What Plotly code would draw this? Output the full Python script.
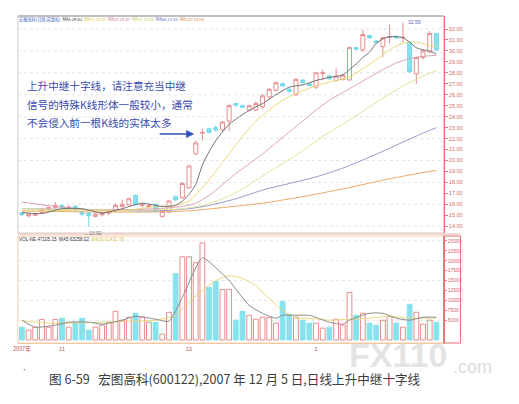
import plotly.graph_objects as go

# ---------------- data ----------------
idx = list(range(63))
open_ = [15.2, 14.95, 15.0, 15.25, 15.5, 15.7, 15.9, 15.6, 15.8, 15.3,
         15.2, 14.9, 15.05, 15.2, 15.4, 15.8, 15.95, 16.8, 15.9, 15.8,
         16.0, 14.9, 15.3, 16.7, 16.6, 17.5, 20.6, 22.5, 22.9, 23.0,
         22.8, 23.6, 25.2, 25.0, 24.6, 24.6, 24.9, 25.8, 26.4, 27.0,
         26.5, 26.0, 27.35, 27.0, 26.7, 27.95, 27.7, 27.3, 27.4, 27.35,
         30.3, 30.1, 31.4, 30.9, 30.4, 31.25, 31.35, 31.2, 30.8, 27.9,
         29.4, 29.9, 31.6]
high = [15.3, 15.2, 15.25, 15.7, 15.8, 16.2, 16.0, 15.9, 15.9, 15.4,
        15.3, 15.2, 15.3, 15.5, 16.1, 16.4, 16.6, 16.9, 16.1, 16.0,
        16.1, 15.5, 16.4, 16.8, 18.0, 19.6, 21.8, 22.9, 23.0, 23.2,
        23.6, 25.2, 25.3, 25.1, 25.1, 25.4, 26.1, 26.6, 27.2, 27.1,
        26.6, 27.5, 27.4, 27.1, 28.1, 28.3, 27.8, 28.4, 27.9, 30.4,
        30.4, 31.9, 31.5, 31.0, 31.3, 32.4, 31.4, 32.59, 30.9, 29.5,
        30.1, 31.8, 31.65]
low = [14.9, 14.8, 14.9, 15.2, 15.4, 15.6, 15.6, 15.5, 15.3, 14.9,
       13.92, 14.8, 14.9, 15.0, 15.3, 15.7, 15.9, 15.9, 15.7, 15.6,
       15.3, 14.8, 15.2, 16.3, 16.5, 17.4, 20.5, 21.8, 22.5, 22.6,
       22.6, 22.7, 24.9, 24.8, 24.5, 24.5, 24.7, 25.6, 26.3, 26.7,
       26.2, 25.9, 27.0, 26.8, 26.5, 27.3, 27.4, 27.2, 27.3, 27.3,
       30.1, 29.9, 31.1, 30.7, 29.4, 30.7, 31.1, 30.8, 28.0, 27.0,
       29.2, 29.8, 30.0]
close = [15.05, 15.1, 15.15, 15.55, 15.7, 15.9, 15.7, 15.75, 15.45, 15.1,
         14.95, 15.1, 15.2, 15.35, 15.9, 16.0, 16.5, 16.0, 16.0, 15.9,
         15.4, 15.35, 16.3, 16.4, 17.9, 19.5, 21.6, 22.55, 22.55, 22.8,
         23.5, 25.0, 25.05, 24.85, 25.0, 25.2, 25.9, 26.5, 27.1, 26.8,
         26.3, 27.4, 27.1, 26.85, 28.0, 28.0, 27.45, 27.7, 27.8, 30.3,
         30.15, 31.5, 31.2, 30.75, 31.2, 31.3, 31.2, 31.25, 28.1, 29.4,
         30.0, 31.6, 30.1]
volume = [3250, 2500, 3250, 5200, 3250, 5200, 5500, 3250, 4500, 5500,
          2500, 3250, 3750, 4500, 7250, 5000, 5750, 6750, 5750, 4500,
          4500, 1500, 7000, 16750, 21000, 21000, 19500, 24500, 13250, 14750,
          12750, 12750, 5000, 7250, 6250, 5250, 5750, 5750, 4250, 9750,
          6500, 5750, 5000, 4250, 4250, 3000, 3250, 5250, 3750, 12000,
          6250, 6750, 4250, 3750, 5000, 6000, 4250, 3250, 9000, 7000,
          4000, 5000, 4500]

ma5_x = [0, 3, 6, 9, 12, 15, 18, 21, 23, 24, 25, 26, 27, 28, 29, 30, 31, 33, 35, 36,
         38, 40, 42, 44, 46, 48, 49, 50, 51, 52, 53, 54, 55, 56, 57, 58, 59, 60, 61, 62]
ma5_y = [15.25, 15.15, 15.6, 15.6, 15.2, 15.6, 16.1, 15.8, 15.9, 16.3, 16.9, 17.8, 19.6,
         20.8, 21.8, 22.6, 23.3, 24.2, 24.9, 25.2, 26.0, 26.7, 26.9, 27.3, 27.6, 27.8,
         28.3, 28.8, 29.4, 29.9, 30.7, 31.1, 31.3, 31.3, 31.2, 30.8, 30.3, 30.1, 30.0, 29.7]
ma10_x = [0, 5, 10, 15, 20, 23, 25, 27, 29, 31, 33, 35, 37, 39, 41, 43, 45, 47, 49, 51,
          53, 55, 57, 59, 61, 62]
ma10_y = [15.4, 15.4, 15.5, 15.4, 15.8, 15.9, 16.3, 17.5, 19.0, 20.6, 22.2, 23.6, 24.6,
          25.5, 26.1, 26.6, 27.0, 27.3, 27.6, 28.4, 29.2, 30.1, 30.7, 30.8, 30.5, 30.4]
ma20_x = [0, 5, 10, 15, 20, 24, 26, 28, 30, 32, 34, 36, 38, 40, 42, 44, 46, 48, 50, 52,
          54, 56, 58, 60, 62]
ma20_y = [16.2, 15.8, 15.5, 15.5, 15.6, 15.8, 16.1, 16.8, 17.8, 18.8, 19.7, 20.6, 21.6,
          22.6, 23.6, 24.6, 25.5, 26.2, 26.9, 27.6, 28.3, 28.9, 29.3, 29.5, 29.6]
ma30_x = [0, 10, 20, 24, 27, 30, 33, 36, 39, 42, 45, 48, 51, 54, 57, 60, 62]
ma30_y = [15.6, 15.5, 15.5, 15.6, 15.9, 16.5, 17.4, 18.6, 19.7, 20.9, 22.2, 23.3, 24.5,
          25.7, 26.8, 27.7, 28.2]
ma60_x = [0, 10, 20, 25, 28, 32, 36, 40, 44, 48, 52, 56, 60, 62]
ma60_y = [15.6, 15.5, 15.4, 15.6, 15.9, 16.5, 17.3, 17.9, 18.5, 19.3, 20.3, 21.4, 22.5, 23.0]
ma120_x = [0, 10, 20, 25, 30, 36, 42, 48, 54, 60, 62]
ma120_y = [15.4, 15.3, 15.3, 15.4, 15.7, 16.1, 16.7, 17.4, 18.2, 18.9, 19.1]

vma5_x = [0, 2, 5, 7, 10, 12, 15, 17, 20, 22, 24, 27, 29, 31, 34, 36, 38, 39, 41, 43,
          46, 48, 49, 52, 54, 56, 58, 60, 62]
vma5_y = [5000, 3250, 3750, 4500, 4500, 4000, 5000, 6000, 5250, 4750, 10750, 20750,
          18250, 15000, 8750, 6750, 5500, 6250, 6250, 6250, 4500, 4000, 5000, 6750,
          6750, 5500, 5000, 5750, 5750]
vma10_x = [0, 5, 10, 15, 20, 23, 25, 27, 29, 31, 33, 35, 36, 37, 39, 41, 43, 46, 49, 52,
           55, 58, 60, 62]
vma10_y = [4800, 4200, 4400, 4700, 5000, 6200, 9500, 12500, 15000, 16250, 15500, 13750,
           12000, 10500, 7500, 5500, 5500, 5000, 5250, 5500, 6000, 5500, 5500, 5600]

price_ticks = [14, 15, 16, 17, 18, 19, 20, 21, 22, 23, 24, 25, 26, 27, 28, 29, 30, 31, 32]
price_grid = [14, 16, 18, 20, 22, 24, 26, 28, 30, 32]
vol_ticks = [5000, 7500, 10000, 12500, 15000, 17500, 20000, 22500, 25000]
vol_grid = [5000, 10000, 15000, 20000, 25000]
date_pos = [0, 6, 25, 44]
date_text = ["2007年", "11", "12", "1"]

# ---------------- figure ----------------
W, H = 519, 404
def px(x):
    return x / W
def py(y):
    return 1 - y / H

UP = "#e88c8c"
DN_FILL = "#86e3ee"
DN_LINE = "#74d9e8"

fig = go.Figure()

ma_specs = [
    (ma120_x, ma120_y, "#eaa867"),
    (ma60_x, ma60_y, "#9a98c8"),
    (ma30_x, ma30_y, "#dfe39a"),
    (ma20_x, ma20_y, "#dca3b5"),
    (ma10_x, ma10_y, "#ecd77a"),
    (ma5_x, ma5_y, "#707070"),
]
for xs, ys, col in ma_specs:
    fig.add_trace(go.Scatter(x=xs, y=ys, mode="lines", line=dict(color=col, width=1, shape="spline", smoothing=0.6),
                             xaxis="x", yaxis="y", hoverinfo="skip", showlegend=False))

fig.add_trace(go.Candlestick(
    x=idx, open=open_, high=high, low=low, close=close,
    increasing=dict(line=dict(color=UP, width=1), fillcolor="white"),
    decreasing=dict(line=dict(color=DN_LINE, width=1), fillcolor=DN_FILL),
    whiskerwidth=0, xaxis="x", yaxis="y", showlegend=False))

bar_fill = ["white" if c >= o else DN_FILL for o, c in zip(open_, close)]
bar_line = [UP if c >= o else DN_FILL for o, c in zip(open_, close)]
fig.add_trace(go.Bar(x=idx, y=volume, width=0.72,
                     marker=dict(color=bar_fill, line=dict(color=bar_line, width=1)),
                     xaxis="x2", yaxis="y2", showlegend=False))
fig.add_trace(go.Scatter(x=vma10_x, y=vma10_y, mode="lines",
                         line=dict(color="#ecd77a", width=1, shape="spline", smoothing=0.6),
                         xaxis="x2", yaxis="y2", showlegend=False))
fig.add_trace(go.Scatter(x=vma5_x, y=vma5_y, mode="lines",
                         line=dict(color="#8a8a8a", width=1, shape="spline", smoothing=0.6),
                         xaxis="x2", yaxis="y2", showlegend=False))

shapes = []
for g in price_grid:
    shapes.append(dict(type="line", xref="x domain", yref="y", x0=0, x1=1, y0=g, y1=g,
                       line=dict(color="#e4e4e4", width=1, dash="dot"), layer="below"))
for g in vol_grid:
    shapes.append(dict(type="line", xref="x2 domain", yref="y2", x0=0, x1=1, y0=g, y1=g,
                       line=dict(color="#e4e4e4", width=1, dash="dot"), layer="below"))
# panel frames
shapes.append(dict(type="rect", xref="paper", yref="paper", x0=px(13), x1=px(443), y0=py(233), y1=py(16),
                   line=dict(color="#cfcfcf", width=1), layer="below"))
shapes.append(dict(type="line", xref="paper", yref="paper", x0=px(13), x1=px(443), y0=py(16), y1=py(16),
                   line=dict(color="#9a9a9a", width=1)))
shapes.append(dict(type="line", xref="paper", yref="paper", x0=px(13), x1=px(460), y0=py(234), y1=py(234),
                   line=dict(color="#f0b8a8", width=1)))
shapes.append(dict(type="rect", xref="paper", yref="paper", x0=px(13), x1=px(443), y0=py(343), y1=py(236),
                   line=dict(color="#f2cfb0", width=1), layer="below"))
shapes.append(dict(type="rect", xref="paper", yref="paper", x0=px(443), x1=px(460), y0=py(343), y1=py(236),
                   line=dict(color="#e07070", width=1)))

annotations = []
# header line of the price panel
hdr = ('<span style="color:#3d5fc0">宏图高科(日线,前复权)</span>  '
       '<span style="color:#333">MA5 29.62</span>  '
       '<span style="color:#e0c24a">MA10 30.47</span>  '
       '<span style="color:#d27a9a">MA20 29.47</span>  '
       '<span style="color:#c4cc5a">MA30 28.44</span>  '
       '<span style="color:#5a6ac4">MA60 23.05</span>  '
       '<span style="color:#e08a3a">MA120 19.04</span>')
annotations.append(dict(xref="paper", yref="paper", x=px(12), y=py(19.5), text=hdr, showarrow=False,
                        xanchor="left", yanchor="middle", font=dict(size=4.2, family="Noto Sans CJK SC")))
vhdr = ('<span style="color:#333">VOL-NE 47105.15  MA5 63258.02</span>  '
        '<span style="color:#e0c24a">MA10 61432.78</span>')
annotations.append(dict(xref="paper", yref="paper", x=px(12), y=py(239), text=vhdr, showarrow=False,
                        xanchor="left", yanchor="middle", font=dict(size=4.6, family="Liberation Sans")))
# explanatory text
lines = ["上升中继十字线，请注意充当中继",
         "信号的特殊K线形体一般较小，通常",
         "不会侵入前一根K线的实体太多"]
for k, t in enumerate(lines):
    annotations.append(dict(xref="paper", yref="paper", x=px(20), y=py(86 + 18 * k), text=t,
                            showarrow=False, xanchor="left", yanchor="middle",
                            font=dict(size=10.6, color="#3a4cae", family="Noto Sans CJK SC")))
# arrow
annotations.append(dict(xref="paper", yref="paper", x=px(191), y=py(134), ax=-36, ay=0, text="",
                        showarrow=True, arrowhead=2, arrowsize=1, arrowwidth=1.6, arrowcolor="#3050b8"))
# high / low markers
annotations.append(dict(xref="x", yref="y", x=57, y=32.59, text="32.59", showarrow=False,
                        xanchor="left", yanchor="middle", xshift=3, yshift=1,
                        font=dict(size=5, color="#5a6ab0", family="Liberation Sans")))
annotations.append(dict(xref="x", yref="y", x=9, y=13.92, text="←13.92", showarrow=False,
                        xanchor="left", yanchor="top", yshift=-1,
                        font=dict(size=5, color="#777", family="Liberation Sans")))
# watermark
annotations.append(dict(xref="paper", yref="paper", x=px(397), y=py(355), text="<b>FX110</b>", showarrow=False,
                        xanchor="center", yanchor="middle",
                        font=dict(size=34, color="rgba(205,205,205,0.55)", family="Liberation Sans")))
annotations.append(dict(xref="paper", yref="paper", x=px(472), y=py(367), text=".com", showarrow=False,
                        xanchor="center", yanchor="middle",
                        font=dict(size=18, color="rgba(205,205,205,0.7)", family="Liberation Sans")))
# caption
annotations.append(dict(xref="paper", yref="paper", x=px(42), y=py(378),
                        text="图 6-59   宏图高科(600122),2007 年 12 月 5 日,日线上升中继十字线",
                        showarrow=False, xanchor="left", yanchor="middle",
                        font=dict(size=12.6, color="#3c3c3c", family="Noto Sans CJK SC")))
annotations.append(dict(xref="paper", yref="paper", x=px(16), y=py(378), text="·", showarrow=False,
                        font=dict(size=10, color="#666")))

xr = [-0.6, 63.1]
fig.update_layout(
    width=W, height=H, margin=dict(l=0, r=0, t=0, b=0), boxgap=0.15,
    paper_bgcolor="white", plot_bgcolor="white", showlegend=False,
    xaxis=dict(domain=[px(13), px(443)], range=xr, anchor="y", showticklabels=False, showgrid=False,
               zeroline=False, rangeslider=dict(visible=False), showline=False, fixedrange=True),
    yaxis=dict(domain=[py(233), py(16)], range=[13.38, 33.19], anchor="x", side="right",
               tickvals=price_ticks, ticktext=[f"{v:.2f}" for v in price_ticks],
               tickfont=dict(size=5.5, color="#d06a6a", family="Liberation Sans"),
               ticks="outside", ticklen=3, tickcolor="#e08080", showline=True, linecolor="#e07070",
               showgrid=False, zeroline=False),
    xaxis2=dict(domain=[px(13), px(443)], range=xr, anchor="y2", tickvals=date_pos, ticktext=date_text,
                tickfont=dict(size=5.5, color="#c05050", family="Noto Sans CJK SC"), ticks="",
                showgrid=False, zeroline=False, showline=True, linecolor="#f2c8a0"),
    yaxis2=dict(domain=[py(343), py(236)], range=[-750, 26250], anchor="x2", side="right",
                tickvals=vol_ticks, ticktext=[str(v) for v in vol_ticks],
                tickfont=dict(size=5, color="#d06a6a", family="Liberation Sans"),
                ticks="outside", ticklen=2, tickcolor="#e08080", showline=True, linecolor="#e07070",
                showgrid=False, zeroline=False),
    shapes=shapes, annotations=annotations,
)

fig.write_html("out.html", config={"displayModeBar": False},
               post_script="document.body.style.margin='0px';")
